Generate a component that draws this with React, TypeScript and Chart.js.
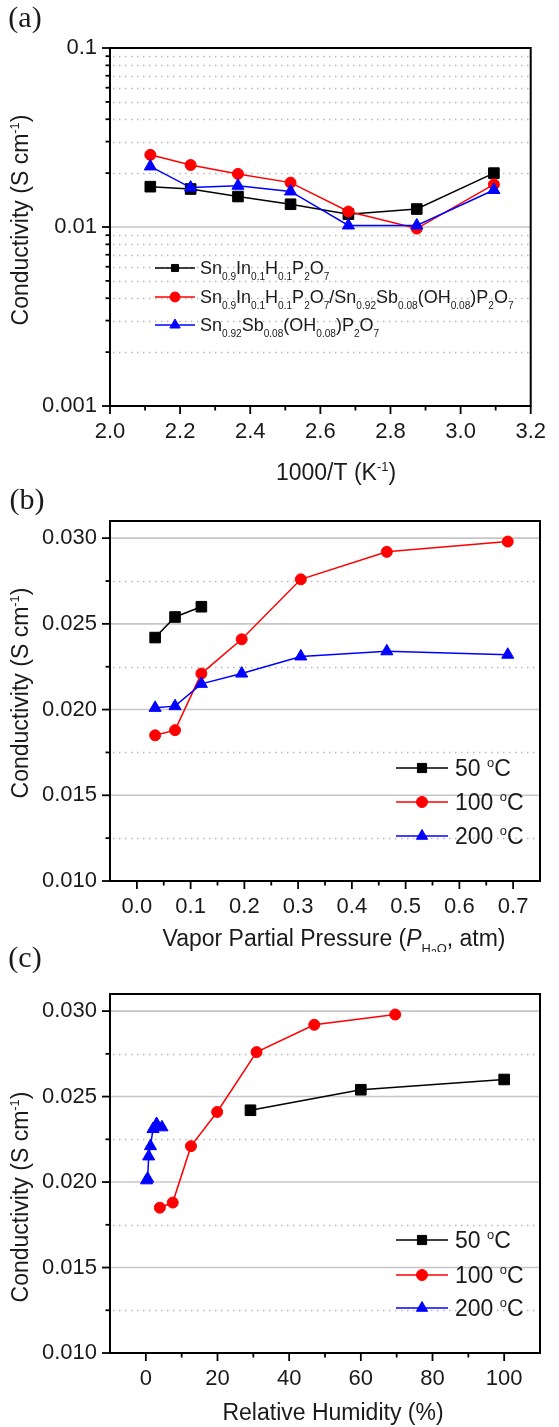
import { useEffect, useRef } from "react";
import { Chart, registerables } from "chart.js";
import { drawPoint } from "chart.js/helpers";

Chart.register(...registerables);

const SANS = '"Liberation Sans", Arial, Helvetica, sans-serif';
const SERIF = '"Liberation Serif", "Times New Roman", serif';

// ---------- (a) conductivity vs 1000/T (log scale)
const invTemp = [2.115, 2.23, 2.365, 2.515, 2.68, 2.875, 3.095];
const condSnIn = [0.0168, 0.0163, 0.0148, 0.0134, 0.0118, 0.0126, 0.02];
const condComposite = [0.0253, 0.0222, 0.0198, 0.0177, 0.0122, 0.0098, 0.0173];
const condSnSb = [0.0218, 0.0166, 0.017, 0.0158, 0.0102, 0.0102, 0.0161];
const invTempTicks = [2.0, 2.2, 2.4, 2.6, 2.8, 3.0, 3.2];
const invTempMinor = [2.1, 2.3, 2.5, 2.7, 2.9, 3.1];
const logTicks = [0.001, 0.01, 0.1];
const logMinor = [0.002, 0.003, 0.004, 0.005, 0.006, 0.007, 0.008, 0.009, 0.02, 0.03, 0.04, 0.05, 0.06, 0.07, 0.08, 0.09];
const logSolid = [0.01];
const namesA = [
  "Sn_{0.9}In_{0.1}H_{0.1}P_{2}O_{7}",
  "Sn_{0.9}In_{0.1}H_{0.1}P_{2}O_{7}/Sn_{0.92}Sb_{0.08}(OH_{0.08})P_{2}O_{7}",
  "Sn_{0.92}Sb_{0.08}(OH_{0.08})P_{2}O_{7}",
];

// ---------- (b) conductivity vs vapor partial pressure
const pressure50 = [0.034, 0.071, 0.12];
const pressure100 = [0.034, 0.071, 0.12, 0.195, 0.305, 0.465, 0.69];
const pressure200 = [0.034, 0.071, 0.12, 0.195, 0.305, 0.465, 0.69];
const cond50 = [0.0242, 0.0254, 0.026];
const cond100 = [0.0185, 0.0188, 0.0221, 0.0241, 0.0276, 0.0292, 0.0298];
const cond200 = [0.0201, 0.0202, 0.0215, 0.0221, 0.0231, 0.0234, 0.0232];
const pressureTicks = [0, 0.1, 0.2, 0.3, 0.4, 0.5, 0.6, 0.7];
const pressureMinor = [0.05, 0.15, 0.25, 0.35, 0.45, 0.55, 0.65];
const condTicks = [0.01, 0.015, 0.02, 0.025, 0.03];
const condMinor = [0.0125, 0.0175, 0.0225, 0.0275];
const condSolid = [0.015, 0.02, 0.025, 0.03];

// ---------- (c) conductivity vs relative humidity
const rh50 = [29.2, 60, 100];
const rh100 = [3.9, 7.5, 12.6, 19.9, 30.9, 47, 69.6];
const rh200 = [0.2, 0.5, 0.8, 1.3, 2.0, 3.0, 4.5];
const rhTicks = [0, 20, 40, 60, 80, 100];
const rhMinor = [10, 30, 50, 70, 90];

const tempNames = ["50 ^{o}C", "100 ^{o}C", "200 ^{o}C"];

// ---------- rich text (sub / superscripts)
type Seg = { t: string; lvl: number; it?: boolean };

function rich(s: string): Seg[] {
  const out: Seg[] = [];
  const re = /_\{([^}]*)\}|\^\{([^}]*)\}|([^_^]+)/g;
  let m: RegExpExecArray | null;
  while ((m = re.exec(s))) {
    if (m[1] !== undefined) out.push({ t: m[1], lvl: -1 });
    else if (m[2] !== undefined) out.push({ t: m[2], lvl: 1 });
    else out.push({ t: m[3], lvl: 0 });
  }
  return out;
}

function fontFor(size: number, s: Seg) {
  const k = s.lvl === 0 ? 1 : Math.abs(s.lvl) === 2 ? 0.45 : 0.56;
  return `${s.it ? "italic " : ""}${(size * k).toFixed(1)}px ${SANS}`;
}
function dyFor(size: number, lvl: number) {
  if (lvl === -1) return size * 0.3;
  if (lvl === -2) return size * 0.45;
  if (lvl === 1) return -size * 0.42;
  return 0;
}
function drawRich(ctx: CanvasRenderingContext2D, segs: Seg[], x: number, y: number, size: number, align: "left" | "center") {
  ctx.save();
  ctx.textBaseline = "alphabetic";
  ctx.textAlign = "left";
  let w = 0;
  for (const s of segs) {
    ctx.font = fontFor(size, s);
    w += ctx.measureText(s.t).width;
  }
  let cx = align === "center" ? x - w / 2 : x;
  for (const s of segs) {
    ctx.font = fontFor(size, s);
    ctx.fillText(s.t, cx, y + dyFor(size, s.lvl));
    cx += ctx.measureText(s.t).width;
  }
  ctx.restore();
}

function series(xs: number[], ys: number[], color: string, style: string, r: number, order: number) {
  return {
    data: xs.map((x, i) => ({ x, y: ys[i] })),
    showLine: true,
    borderColor: color,
    backgroundColor: color,
    borderWidth: 1.5,
    pointStyle: style,
    pointRadius: r,
    pointBorderWidth: 1,
    pointBackgroundColor: color,
    pointBorderColor: color,
    tension: 0,
    order,
    clip: false,
  };
}

type LegendItem = { segs: Seg[]; color: string; style: string; r: number };

type PanelSpec = {
  top: number;
  height: number;
  plotTop: number;
  plotBottom: number;
  label: string;
  labelX: number;
  labelY: number;
  x: { min: number; max: number; ticks: number[]; minor: number[]; digits: number };
  y: { log: boolean; min: number; max: number; ticks: number[]; minor: number[]; solid: number[]; digits: number };
  datasets: any[];
  xTitle: Seg[];
  xTitleX: number;
  xTitleY: number;
  yTitleY: number;
  legend: LegendItem[];
  legendLine: [number, number];
  legendTextX: number;
  legendRows: number[];
  legendSize: number;
};

const TICK_FONT = 22;
const TITLE_FONT = 23;
const PLOT_LEFT = 110;
const PLOT_RIGHT = 540;
const X_AXIS_H = 60;

function overlay(p: PanelSpec) {
  const off = p.top;
  return {
    id: "overlay",
    beforeDatasetsDraw(chart: any) {
      const { ctx, chartArea: a, scales } = chart;
      const y = scales.y;
      ctx.save();
      ctx.lineWidth = 1.4;
      ctx.strokeStyle = "#b8b8b8";
      ctx.setLineDash([1.5, 4.5]);
      for (const v of p.y.minor) {
        const py = Math.round(y.getPixelForValue(v)) + 0.5;
        ctx.beginPath();
        ctx.moveTo(a.left + 3, py);
        ctx.lineTo(a.right, py);
        ctx.stroke();
      }
      ctx.setLineDash([]);
      ctx.lineWidth = 1.6;
      ctx.strokeStyle = "#c6c6c6";
      for (const v of p.y.solid) {
        const py = y.getPixelForValue(v);
        ctx.beginPath();
        ctx.moveTo(a.left, py);
        ctx.lineTo(a.right, py);
        ctx.stroke();
      }
      ctx.restore();
    },
    afterDraw(chart: any) {
      const { ctx, chartArea: a, scales } = chart;
      const x = scales.x;
      const y = scales.y;
      ctx.save();
      // frame
      ctx.strokeStyle = "#000";
      ctx.lineWidth = 2;
      ctx.strokeRect(a.left, a.top, a.right - a.left, a.bottom - a.top);
      // tick marks (outward, bottom and left only)
      ctx.lineWidth = 1.8;
      const tx = (v: number, len: number) => {
        const px = x.getPixelForValue(v);
        ctx.beginPath();
        ctx.moveTo(px, a.bottom);
        ctx.lineTo(px, a.bottom + len);
        ctx.stroke();
      };
      const ty = (v: number, len: number) => {
        const py = y.getPixelForValue(v);
        ctx.beginPath();
        ctx.moveTo(a.left, py);
        ctx.lineTo(a.left - len, py);
        ctx.stroke();
      };
      p.x.ticks.forEach((v) => tx(v, 8));
      p.x.minor.forEach((v) => tx(v, 4.5));
      p.y.ticks.forEach((v) => ty(v, 8));
      p.y.minor.forEach((v) => ty(v, 4.5));

      ctx.fillStyle = "#1a1a1a";
      // panel label
      ctx.font = `30px ${SERIF}`;
      ctx.textAlign = "center";
      ctx.textBaseline = "middle";
      ctx.fillText(p.label, p.labelX, p.labelY - off);

      // axis titles
      drawRich(ctx, p.xTitle, p.xTitleX, p.xTitleY - off + TITLE_FONT * 0.36, TITLE_FONT, "center");
      ctx.save();
      ctx.translate(20, p.yTitleY - off);
      ctx.rotate(-Math.PI / 2);
      drawRich(ctx, rich("Conductivity (S cm^{-1})"), 0, TITLE_FONT * 0.36, TITLE_FONT, "center");
      ctx.restore();

      // legend
      const [l0, l1] = p.legendLine;
      p.legend.forEach((it, i) => {
        const ly = p.legendRows[i] - off;
        ctx.strokeStyle = it.color;
        ctx.fillStyle = it.color;
        ctx.lineWidth = 1.5;
        ctx.beginPath();
        ctx.moveTo(l0, ly);
        ctx.lineTo(l1, ly);
        ctx.stroke();
        ctx.lineWidth = 1;
        drawPoint(ctx, { pointStyle: it.style as any, radius: it.r, rotation: 0, borderWidth: 1 } as any, (l0 + l1) / 2, ly);
        ctx.fillStyle = "#1a1a1a";
        drawRich(ctx, it.segs, p.legendTextX, ly + p.legendSize * 0.36, p.legendSize, "left");
      });
      ctx.restore();
    },
  };
}

function buildConfig(p: PanelSpec): any {
  const tickFont = { family: SANS, size: TICK_FONT };
  return {
    type: "scatter",
    data: { datasets: p.datasets },
    options: {
      responsive: false,
      animation: false,
      events: [],
      layout: {
        padding: {
          top: p.plotTop - p.top,
          right: 559 - PLOT_RIGHT,
          bottom: p.top + p.height - p.plotBottom - X_AXIS_H,
          left: 0,
        },
      },
      plugins: { legend: { display: false }, tooltip: { enabled: false } },
      scales: {
        x: {
          type: "linear",
          min: p.x.min,
          max: p.x.max,
          grid: { display: false, drawTicks: false },
          border: { display: false },
          afterBuildTicks: (s: any) => {
            s.ticks = p.x.ticks.map((value) => ({ value }));
          },
          afterFit: (s: any) => {
            s.height = X_AXIS_H;
          },
          ticks: {
            font: tickFont,
            color: "#1a1a1a",
            padding: 13,
            maxRotation: 0,
            autoSkip: false,
            callback: (v: any) => Number(v).toFixed(p.x.digits),
          },
        },
        y: {
          type: p.y.log ? "logarithmic" : "linear",
          min: p.y.min,
          max: p.y.max,
          grid: { display: false, drawTicks: false },
          border: { display: false },
          afterBuildTicks: (s: any) => {
            s.ticks = p.y.ticks.map((value) => ({ value }));
          },
          afterFit: (s: any) => {
            s.width = PLOT_LEFT;
          },
          ticks: {
            font: tickFont,
            color: "#1a1a1a",
            padding: 13,
            autoSkip: false,
            callback: (v: any) => (p.y.log ? String(Number(v)) : Number(v).toFixed(p.y.digits)),
          },
        },
      },
    },
    plugins: [overlay(p)],
  };
}

const tempLegend: LegendItem[] = [
  { segs: rich(tempNames[0]), color: "#000000", style: "rect", r: 6.5 },
  { segs: rich(tempNames[1]), color: "#ff0000", style: "circle", r: 5.5 },
  { segs: rich(tempNames[2]), color: "#0000ff", style: "triangle", r: 6.5 },
];

const panelA: PanelSpec = {
  top: 0,
  height: 490,
  plotTop: 48,
  plotBottom: 406,
  label: "(a)",
  labelX: 25,
  labelY: 19,
  x: { min: 2.0, max: 3.2, ticks: invTempTicks, minor: invTempMinor, digits: 1 },
  y: { log: true, min: 0.001, max: 0.1, ticks: logTicks, minor: logMinor, solid: logSolid, digits: 3 },
  datasets: [
    series(invTemp, condSnIn, "#000000", "rect", 7.5, 3),
    series(invTemp, condComposite, "#ff0000", "circle", 5.5, 2),
    series(invTemp, condSnSb, "#0000ff", "triangle", 7, 1),
  ],
  xTitle: rich("1000/T (K^{-1})"),
  xTitleX: 336,
  xTitleY: 472,
  yTitleY: 220,
  legend: [
    { segs: rich(namesA[0]), color: "#000000", style: "rect", r: 5 },
    { segs: rich(namesA[1]), color: "#ff0000", style: "circle", r: 5 },
    { segs: rich(namesA[2]), color: "#0000ff", style: "triangle", r: 6 },
  ],
  legendLine: [155, 195],
  legendTextX: 200,
  legendRows: [268, 297, 325],
  legendSize: 18,
};

const panelB: PanelSpec = {
  top: 480,
  height: 472,
  plotTop: 521,
  plotBottom: 881,
  label: "(b)",
  labelX: 27,
  labelY: 501,
  x: { min: -0.05, max: 0.75, ticks: pressureTicks, minor: pressureMinor, digits: 1 },
  y: { log: false, min: 0.01, max: 0.031, ticks: condTicks, minor: condMinor, solid: condSolid, digits: 3 },
  datasets: [
    series(pressure50, cond50, "#000000", "rect", 7.5, 3),
    series(pressure100, cond100, "#ff0000", "circle", 5.5, 2),
    series(pressure200, cond200, "#0000ff", "triangle", 7, 1),
  ],
  xTitle: [
    ...rich("Vapor Partial Pressure ("),
    { t: "P", lvl: 0, it: true },
    { t: "H", lvl: -1 },
    { t: "2", lvl: -2 },
    { t: "O", lvl: -1 },
    { t: ", atm)", lvl: 0 },
  ],
  xTitleX: 334,
  xTitleY: 938,
  yTitleY: 693,
  legend: tempLegend,
  legendLine: [396, 448],
  legendTextX: 455,
  legendRows: [768, 802, 836],
  legendSize: 23,
};

const panelC: PanelSpec = {
  top: 940,
  height: 487,
  plotTop: 994,
  plotBottom: 1353,
  label: "(c)",
  labelX: 25,
  labelY: 959,
  x: { min: -10, max: 110, ticks: rhTicks, minor: rhMinor, digits: 0 },
  y: { log: false, min: 0.01, max: 0.031, ticks: condTicks, minor: condMinor, solid: condSolid, digits: 3 },
  datasets: [
    series(rh50, cond50, "#000000", "rect", 7.5, 3),
    series(rh100, cond100, "#ff0000", "circle", 5.5, 2),
    series(rh200, cond200, "#0000ff", "triangle", 7, 1),
  ],
  xTitle: rich("Relative Humidity (%)"),
  xTitleX: 333,
  xTitleY: 1412,
  yTitleY: 1197,
  legend: tempLegend,
  legendLine: [396, 448],
  legendTextX: 455,
  legendRows: [1240, 1275, 1308],
  legendSize: 23,
};

function Panel({ spec }: { spec: PanelSpec }) {
  const canvasRef = useRef<HTMLCanvasElement | null>(null);

  useEffect(() => {
    const el = canvasRef.current;
    if (!el) return;
    const c = new Chart(el, buildConfig(spec));
    return () => c.destroy();
  }, [spec]);

  return (
    <canvas
      ref={canvasRef}
      width={559}
      height={spec.height}
      style={{ position: "absolute", left: 0, top: spec.top, width: 559, height: spec.height }}
    />
  );
}

export default function App() {
  return (
    <div style={{ position: "absolute", left: 0, top: 0, width: 559, height: 1427, background: "#fff", overflow: "hidden" }}>
      <Panel spec={panelA} />
      <Panel spec={panelB} />
      <Panel spec={panelC} />
    </div>
  );
}
